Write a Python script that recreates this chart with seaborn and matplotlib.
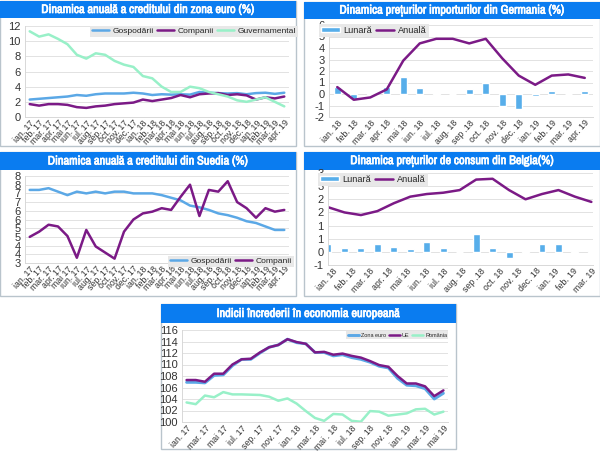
import numpy as np
import pandas as pd
import matplotlib
matplotlib.use('Agg')
import matplotlib.pyplot as plt
import matplotlib.patheffects as pe
from matplotlib import font_manager
from matplotlib.patches import Rectangle
import seaborn as sns

sns.set_theme(style='white')
plt.rcParams['font.family'] = ['Liberation Sans', 'DejaVu Sans']

W, H = 600, 451
BLUE = '#0a7cf0'
C_GOSP = '#5ba8e6'
C_COMP = '#7b1a86'
C_GUV = '#98f0c8'
C_BAR = '#57aeea'
LW = 1.8

# font ingust pentru titluri, daca exista
nume_fonturi = [f.name for f in font_manager.fontManager.ttflist]
ingust = [n for n in nume_fonturi if 'Narrow' in n or 'Condensed' in n]
TITLE_FONT = ingust[:1] + ['Liberation Sans']
TITLE_SIZE = 8.9 if ingust else 7.0

# date grafic 1
luni_17_19 = ['ian. 17', 'feb. 17', 'mar. 17', 'apr. 17', 'mai 17', 'iun. 17', 'iul. 17', 'aug. 17', 'sep. 17', 'oct. 17',
              'nov. 17', 'dec. 17', 'ian. 18', 'feb. 18', 'mar. 18', 'apr. 18', 'mai 18', 'iun. 18', 'iul. 18', 'aug. 18',
              'sep. 18', 'oct. 18', 'nov. 18', 'dec. 18', 'ian. 19', 'feb. 19', 'mar. 19', 'apr. 19']
euro_gosp = [2.3, 2.4, 2.5, 2.6, 2.7, 2.9, 2.8, 3.0, 3.1, 3.1, 3.1, 3.2, 3.1, 2.9, 3.0, 2.95, 3.0, 2.95, 3.3, 3.2, 3.15, 3.1, 3.15, 3.0, 3.15, 3.2, 3.05, 3.2]
euro_comp = [1.7, 1.5, 1.7, 1.7, 1.6, 1.3, 1.2, 1.4, 1.5, 1.7, 1.8, 1.9, 2.3, 2.1, 2.3, 2.5, 2.9, 2.6, 3.0, 3.1, 3.15, 2.9, 3.0, 2.85, 2.3, 2.6, 2.45, 2.7]
euro_guv = [11.3, 10.6, 10.9, 10.3, 9.6, 8.2, 7.7, 8.4, 8.2, 7.4, 6.9, 6.6, 5.4, 5.1, 4.0, 3.3, 3.3, 4.0, 3.8, 3.3, 3.0, 2.7, 2.2, 2.0, 2.3, 2.6, 2.0, 1.4]

# date grafic 2
luni_18_19 = ['ian. 18', 'feb. 18', 'mar. 18', 'apr. 18', 'mai 18', 'iun. 18', 'iul. 18', 'aug. 18', 'sep .18', 'oct. 18',
              'nov. 18', 'dec. 18', 'ian. 19', 'feb. 19', 'mar. 19', 'apr. 19']
ger_lunara = [0.6, -0.4, -0.1, 0.6, 1.5, 0.5, -0.1, 0.0, 0.4, 1.0, -1.0, -1.3, -0.2, 0.3, 0.0, 0.3]
ger_anuala = [0.6, -0.5, -0.3, 0.4, 2.9, 4.4, 4.8, 4.8, 4.4, 4.8, 3.1, 1.6, 0.8, 1.6, 1.7, 1.4]

# date grafic 3
sue_gosp = [7.2, 7.2, 7.3, 7.1, 6.9, 7.1, 7.0, 7.1, 7.0, 7.1, 7.1, 7.0, 7.0, 7.0, 6.9, 6.75, 6.6, 6.3, 6.2, 6.05, 5.85, 5.75, 5.6, 5.4, 5.3, 5.1, 4.9, 4.9]
sue_comp = [4.5, 4.8, 5.2, 5.1, 4.55, 3.3, 4.9, 3.95, 3.6, 3.25, 4.8, 5.5, 5.85, 5.95, 6.15, 6.05, 6.8, 7.5, 5.7, 7.2, 7.1, 7.7, 6.5, 6.15, 5.6, 6.15, 5.95, 6.05]

# date grafic 4
bel_luni = ['ian. 18', 'feb. 18', 'mar. 18', 'apr. 18', 'mai 18', 'iun. 18', 'iul. 18', 'aug. 18', 'sep .18', 'oct. 18',
            'nov. 18', 'dec. 18', 'ian. 19', 'feb. 19', 'mar. 19']
bel_idx = list(range(17))
bel_lunara = [0.3, 0.15, 0.13, 0.28, 0.2, 0.1, 0.37, 0.13, 0.0, 0.67, 0.16, -0.25, -0.05, 0.3, 0.3, 0.05, 0.03]
bel_anuala = [1.7, 1.5, 1.4, 1.55, 1.85, 2.1, 2.2, 2.25, 2.35, 2.75, 2.78, 2.35, 2.0, 2.2, 2.35, 2.1, 1.9]

# date grafic 5
luni_5 = ['ian. 17', 'feb. 17', 'mar. 17', 'apr. 17', 'mai 17', 'iun. 17', 'iul. 17', 'aug. 17', 'sep. 17', 'oct. 17',
          'nov. 17', 'dec. 17', 'ian. 18', 'feb. 18', 'mar. 18', 'apr. 18', 'mai . 18', 'iun. 18', 'iul. 18', 'aug. 18',
          'sep. 18', 'oct. 18', 'nov. 18', 'dec. 18', 'ian. 19', 'feb. 19', 'mar. 19', 'apr. 19', 'mai 19']
conf_euro = [106.9, 106.9, 106.8, 108.1, 108.2, 109.8, 110.9, 110.9, 112.0, 113.0, 113.4, 114.4, 113.8, 113.6, 112.1, 112.1, 111.5, 111.7, 111.2, 110.9, 110.4, 109.7, 109.4, 107.6, 106.4, 106.3, 105.8, 104.0, 105.0]
conf_ue = [107.3, 107.3, 107.0, 108.4, 108.4, 110.0, 110.9, 111.0, 112.1, 113.0, 113.4, 114.4, 113.9, 113.6, 112.1, 112.2, 111.7, 111.9, 111.5, 111.2, 110.6, 109.9, 109.6, 108.0, 106.7, 106.7, 106.2, 104.5, 105.5]
conf_ro = [103.4, 103.1, 104.6, 104.3, 105.2, 104.8, 104.8, 104.75, 104.7, 104.4, 103.7, 104.1, 103.2, 101.9, 100.7, 100.2, 101.4, 101.3, 100.2, 100.05, 101.9, 101.8, 101.1, 101.3, 101.5, 102.2, 102.3, 101.3, 101.8]


def px_axes(fig, x0, y0, x1, y1):
    ax = fig.add_axes([x0 / W, 1 - y1 / H, (x1 - x0) / W, (y1 - y0) / H])
    ax.patch.set_alpha(0)
    return ax


def panel(fig, fx0, fy0, fx1, fy1, title, head_h=17):
    fig.add_artist(Rectangle((fx0 / W, 1 - fy1 / H), (fx1 - fx0) / W, (fy1 - fy0) / H, transform=fig.transFigure,
                             facecolor='white', edgecolor='#b9c4cc', lw=1, zorder=-2))
    fig.add_artist(Rectangle((fx0 / W, 1 - (fy0 + head_h) / H), (fx1 - fx0) / W, head_h / H, transform=fig.transFigure,
                             facecolor=BLUE, edgecolor='none', zorder=-1))
    fig.text((fx0 + fx1) / 2 / W, 1 - (fy0 + head_h / 2) / H, title, color='white', fontsize=TITLE_SIZE, fontweight='bold',
             family=TITLE_FONT, ha='center', va='center',
             path_effects=[pe.withStroke(linewidth=0.5, foreground='white')])


def style(ax, ticks, labels, ylim, fs=8.0):
    ax.set_ylim(*ylim)
    ax.set_yticks(ticks)
    ax.set_yticklabels(labels, fontsize=fs, color='#333333')
    ax.grid(axis='y', color='#e2e2e2', lw=0.7)
    ax.set_axisbelow(True)
    ax.set_xlabel('')
    ax.set_ylabel('')
    for s in ['top', 'right']:
        ax.spines[s].set_visible(False)
    for s in ['left', 'bottom']:
        ax.spines[s].set_color('#d8d8d8')
        ax.spines[s].set_linewidth(0.7)
    ax.tick_params(axis='y', length=0, pad=3)
    ax.tick_params(axis='x', length=0, pad=1)


def xlabels(ax, pos, labels, fs=6.3):
    ax.set_xticks(pos)
    ax.set_xticklabels(labels, rotation=48, ha='right', rotation_mode='anchor', fontsize=fs, color='#333333')


def leg(ax, anchor, ncol, fs=5.6, **kw):
    handles, labels = ax.get_legend_handles_labels()
    # Lunara (bare) primul in legenda
    if 'Lunară' in labels:
        handles, labels = handles[::-1], labels[::-1]
    ax.legend(handles, labels, loc='center', bbox_to_anchor=anchor, ncol=ncol, fontsize=fs, frameon=True, facecolor='#e8e8e8',
              edgecolor='none', framealpha=1, fancybox=False, handlelength=2.0, handleheight=0.4, columnspacing=0.4,
              handletextpad=0.4, borderpad=0.25, borderaxespad=0, **kw)


fig = plt.figure(figsize=(W / 100, H / 100), dpi=100, facecolor='white')

# 1 credit zona euro
panel(fig, 0, 1, 296, 146, 'Dinamica anuală a creditului din zona euro (%)')
ax = px_axes(fig, 25, 26, 289, 117)
df = pd.DataFrame({'luna': luni_17_19, 'Gospodării': euro_gosp, 'Companii': euro_comp, 'Guvernamental': euro_guv})
sns.lineplot(data=df, x='luna', y='Gospodării', ax=ax, color=C_GOSP, lw=LW, label='Gospodării', sort=False)
sns.lineplot(data=df, x='luna', y='Companii', ax=ax, color=C_COMP, lw=LW, label='Companii', sort=False)
sns.lineplot(data=df, x='luna', y='Guvernamental', ax=ax, color=C_GUV, lw=LW, label='Guvernamental', sort=False)
ax.set_xlim(-0.5, 27.5)
style(ax, range(0, 13, 2), range(0, 13, 2), (0, 12))
xlabels(ax, range(28), luni_17_19)
leg(ax, (0.64, 0.94), 3, fs=6.1)

# 2 preturi import Germania
panel(fig, 304, 2, 600, 146, 'Dinamica prețurilor importurilor din Germania (%)')
ax = px_axes(fig, 329, 25, 593, 117)
df = pd.DataFrame({'luna': luni_18_19, 'Lunară': ger_lunara, 'Anuală': ger_anuala})
sns.barplot(data=df, x='luna', y='Lunară', ax=ax, color=C_BAR, saturation=1, width=0.42, label='Lunară')
sns.lineplot(data=df, x='luna', y='Anuală', ax=ax, color=C_COMP, lw=LW, label='Anuală', sort=False)
ax.set_xlim(-0.5, 15.5)
style(ax, range(-2, 7), range(-2, 7), (-2, 6))
xlabels(ax, range(16), luni_18_19)
leg(ax, (0.17, 0.94), 2, fs=6.6)

# 3 credit Suedia
panel(fig, 0, 152, 296, 296, 'Dinamica anuală a creditului din Suedia (%)', head_h=18)
ax = px_axes(fig, 25, 176, 289, 263)
df = pd.DataFrame({'luna': luni_17_19, 'Gospodării': sue_gosp, 'Companii': sue_comp})
sns.lineplot(data=df, x='luna', y='Gospodării', ax=ax, color=C_GOSP, lw=LW, label='Gospodării', sort=False)
sns.lineplot(data=df, x='luna', y='Companii', ax=ax, color=C_COMP, lw=LW, label='Companii', sort=False)
ax.set_xlim(-0.5, 27.5)
style(ax, np.arange(3, 8.5, 0.5), [3, 4, 4, 5, 5, 6, 6, 7, 7, 8, 8], (3, 8))
xlabels(ax, range(28), luni_17_19)
leg(ax, (0.78, 0.02), 2, fs=6.1)

# 4 preturi consum Belgia
panel(fig, 304, 152, 600, 296, 'Dinamica prețurilor de consum din Belgia(%)', head_h=18)
ax = px_axes(fig, 328, 173, 593, 265)
df = pd.DataFrame({'luna': bel_idx, 'Lunară': bel_lunara, 'Anuală': bel_anuala})
sns.barplot(data=df, x='luna', y='Lunară', ax=ax, color=C_BAR, saturation=1, width=0.42, label='Lunară')
sns.lineplot(data=df, x=bel_idx, y='Anuală', ax=ax, color=C_COMP, lw=LW, label='Anuală', sort=False)
ax.set_xlim(0, 16.1)
style(ax, np.arange(-0.5, 3.5, 0.5), [-1, 0, 1, 1, 2, 2, 3, 3], (-0.5, 3))
xlabels(ax, np.linspace(0.3, 16, 15), bel_luni)
leg(ax, (0.17, 0.93), 2, fs=6.6)

# 5 indici incredere
panel(fig, 161, 304, 456, 449, 'Indicii încrederii în economia europeană', head_h=19)
ax = px_axes(fig, 182, 330, 448, 422)
df = pd.DataFrame({'luna': luni_5, 'Zona euro': conf_euro, 'UE': conf_ue, 'România': conf_ro})
sns.lineplot(data=df, x='luna', y='Zona euro', ax=ax, color=C_GOSP, lw=LW + 0.3, label='Zona euro', sort=False)
sns.lineplot(data=df, x='luna', y='UE', ax=ax, color=C_COMP, lw=LW, label='UE', sort=False)
sns.lineplot(data=df, x='luna', y='România', ax=ax, color=C_GUV, lw=LW, label='România', sort=False)
ax.set_xlim(-0.5, 28.5)
style(ax, range(100, 117, 2), range(100, 117, 2), (100, 116))
xlabels(ax, range(0, 29, 2), luni_5[::2])
leg(ax, (0.81, 0.945), 3, fs=4.0)

fig.savefig('out.png', dpi=100, facecolor='white')
